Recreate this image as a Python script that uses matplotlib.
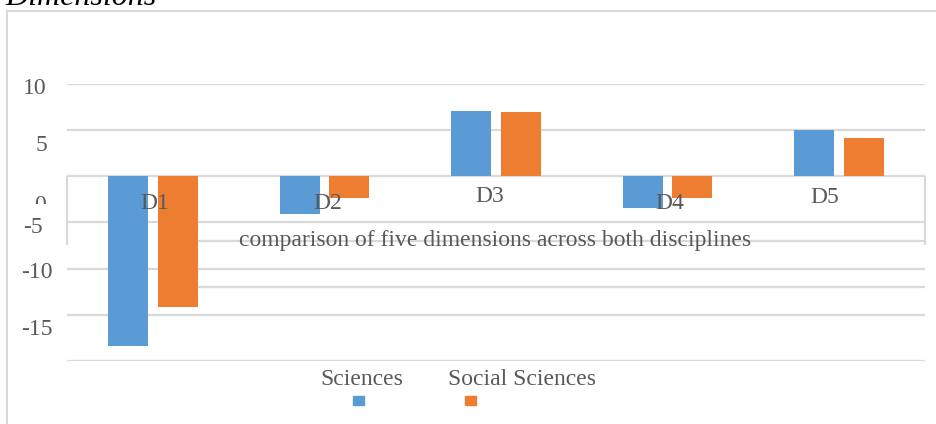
import matplotlib.pyplot as plt
from matplotlib.lines import Line2D
from matplotlib.patches import Rectangle
from matplotlib.transforms import Bbox, ScaledTranslation, TransformedBbox
import numpy as np

plt.rcParams['font.family'] = ['Liberation Serif', 'DejaVu Serif']

# data
dimensions = ['D1', 'D2', 'D3', 'D4', 'D5']
series_names = ['Sciences', 'Social Sciences']
sciences = [-18.4, -4.1, 7.1, -3.4, 5.0]
social_sciences = [-14.2, -2.4, 7.0, -2.3, 4.1]
y_ticks = [10, 5, 0, -5, -10, -15]
y_tick_labels = ['10', '5', '0', '-5', '-10', '-15']
axis_title = 'comparison of five dimensions across both disciplines'
chart_title = 'Dimensions'

# layout (pixels)
W, H = 937, 424
BLUE = '#5b9bd5'
ORANGE = '#ed7d31'
GRID = '#d9d9d9'
TEXT = '#595959'
ytick_shift = [(0, 4), (0, 15), (-1, 29), (-4, 5), (6, 4), (6, 15)]
xlabel_shift = [(2, 27), (3, 27), (-6, 20), (2, 27), (-14, 21)]


def fx(px):
    return px / W


def fy(px):
    return 1 - px / H


def shift(fig, dx, dy):
    return ScaledTranslation(dx / 100, -dy / 100, fig.dpi_scale_trans)


fig = plt.figure(figsize=(W / 100, H / 100), dpi=100)
ax = fig.add_axes([fx(67), fy(361), fx(925) - fx(67), fy(84) - fy(361)])

x = np.arange(len(dimensions))
w = 0.233
ax.bar(x - 0.145, sciences, w, color=BLUE, zorder=3)
ax.bar(x + 0.145, social_sciences, w, color=ORANGE, zorder=3)

ax.set_xlim(-0.5, len(dimensions) - 0.5)
ax.set_ylim(-20, 10)
ax.set_yticks(y_ticks + [-20])
ax.set_xticks([])
ax.tick_params(length=0, labelleft=False)
ax.grid(axis='y', color=GRID, lw=1.6)
ax.set_axisbelow(True)
for s in ax.spines.values():
    s.set_visible(False)

# category axis box and the stray lines under it
ax.vlines([-0.5, len(dimensions) - 0.5], -7.44, 0, color=GRID, lw=1.6,
          clip_on=False, zorder=1)
ax.hlines([-7, -12], 0.26, len(dimensions) - 0.5, color=GRID, lw=1.6, zorder=1)

# value labels on the left
ytrans = ax.get_yaxis_transform()
for val, lbl, (dx, dy) in zip(y_ticks, y_tick_labels, ytick_shift):
    t = ax.text(0, val, lbl, ha='right', va='center', fontsize=17, color=TEXT,
                transform=ytrans + shift(fig, -20 + dx, dy))
    if lbl == '0':
        t.set_clip_on(True)
        t.set_clip_box(TransformedBbox(Bbox([[0, fy(204)], [fx(67), fy(180)]]),
                                       fig.transFigure))

# category labels just under the zero line
for i, (name, (dx, dy)) in enumerate(zip(dimensions, xlabel_shift)):
    ax.text(i, 0, name, ha='center', va='center', fontsize=17, color=TEXT,
            transform=ax.transData + shift(fig, dx, dy))

fig.text(fx(495.5), fy(246), axis_title, ha='center', va='baseline',
         fontsize=17, color=TEXT)

# legend: names above little squares
legend_text_x = [361.5, 522.5]
legend_box_x = [353, 465]
for name, tx, bx, c in zip(series_names, legend_text_x, legend_box_x, [BLUE, ORANGE]):
    fig.text(fx(tx), fy(385), name, ha='center', va='baseline', fontsize=17,
             color=TEXT)
    fig.add_artist(Rectangle((fx(bx), fy(405)), fx(11), 9 / H, color=c,
                             transform=fig.transFigure))

# chart frame and clipped title
fig.add_artist(Line2D([fx(7), fx(7)], [fy(11), 0], color=GRID, lw=1.5,
                      transform=fig.transFigure))
fig.add_artist(Line2D([fx(7), 1], [fy(11), fy(11)], color=GRID, lw=1.5,
                      transform=fig.transFigure))
fig.text(fx(5), fy(5), chart_title, ha='left', va='baseline', fontsize=23,
         style='italic', color='black')

fig.savefig('out.png', dpi=100)
